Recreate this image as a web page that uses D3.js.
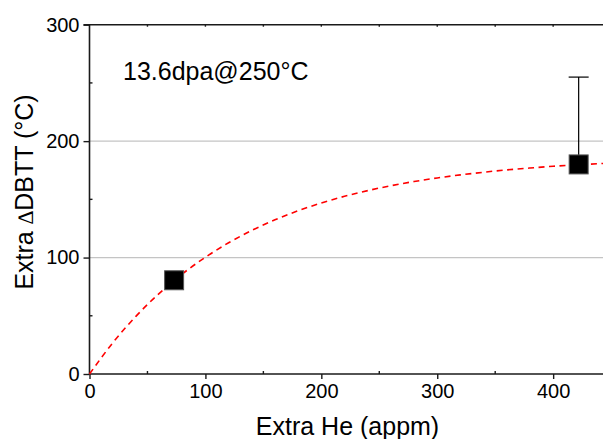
<!DOCTYPE html>
<html><head><meta charset="utf-8">
<script src="https://cdn.jsdelivr.net/npm/d3@7"></script>
<style>body{margin:0;background:#fff}svg{display:block}text{font-family:"Liberation Sans",Arial,sans-serif;fill:#000}</style>
</head><body>
<script>
const pointsHe = [73, 422];
const pointsDBTT = [80.5, 180];
const errUpper = [null, 255];
const curveHe = [0,20,40,60,80,100,120,140,160,180,200,220,240,260,280,300,320,340,360,380,400,420,443];
const curveDBTT = [0,26.7,49.5,69.1,85.9,100.3,112.7,123.3,132.4,140.2,146.9,152.6,157.5,161.7,165.3,168.4,171.0,173.3,175.3,176.9,178.4,179.6,180.8];
const xTicks = [0,100,200,300,400];
const yTicks = [0,100,200,300];
const gridY = [100,200];
const annotation = "13.6dpa@250°C";

const W=603,H=439;
const svg=d3.select("body").append("svg").attr("width",W).attr("height",H);
const x=d3.scaleLinear().domain([0,443]).range([89.5,603]);
const y=d3.scaleLinear().domain([0,300]).range([374,24.7]);

// gridlines
svg.selectAll(".grid").data(gridY).enter().append("line")
  .attr("x1",x(0)).attr("x2",W).attr("y1",d=>y(d)).attr("y2",d=>y(d))
  .attr("stroke","#c4c4c4").attr("stroke-width",1.2);

// axes
const xAxis=svg.append("g").attr("transform",`translate(0,${y(0)})`)
  .call(d3.axisBottom(x).tickValues(xTicks).tickSize(5).tickPadding(4).tickFormat(d3.format("d")));
const yAxis=svg.append("g").attr("transform",`translate(${x(0)},0)`)
  .call(d3.axisLeft(y).tickValues(yTicks).tickSize(6).tickPadding(4).tickFormat(d3.format("d")));
[xAxis,yAxis].forEach(g=>{
  g.select(".domain").attr("stroke","#1a1a1a").attr("stroke-width",1.6);
  g.selectAll(".tick line").attr("stroke","#1a1a1a").attr("stroke-width",1.4);
  g.selectAll(".tick text").attr("font-size",20).attr("font-family","Liberation Sans, Arial, sans-serif").attr("fill","#000");
});
yAxis.select(".domain").attr("d",`M-6,${y(300)}H0V${y(0)}`);
xAxis.select(".domain").attr("d",`M${x(0)},0H${W}`);
xAxis.selectAll(".tick text").attr("dy","0.75em");
// minor ticks (inward)
const minorX=[50,150,250,350];
svg.selectAll(".mx").data(minorX).enter().append("line")
  .attr("x1",d=>x(d)).attr("x2",d=>x(d)).attr("y1",y(0)).attr("y2",y(0)-3)
  .attr("stroke","#1a1a1a").attr("stroke-width",1.4);
const minorY=[50,150,250];
svg.selectAll(".my").data(minorY).enter().append("line")
  .attr("x1",x(0)).attr("x2",x(0)+3).attr("y1",d=>y(d)).attr("y2",d=>y(d))
  .attr("stroke","#1a1a1a").attr("stroke-width",1.4);
// top axis
svg.append("line").attr("x1",x(0)).attr("x2",W).attr("y1",y(300)).attr("y2",y(300))
  .attr("stroke","#1a1a1a").attr("stroke-width",1.6);
svg.selectAll(".tt").data([50,100,150,200,250,300,350,400]).enter().append("line")
  .attr("x1",d=>x(d)).attr("x2",d=>x(d)).attr("y1",y(300)).attr("y2",y(300)+2)
  .attr("stroke","#1a1a1a").attr("stroke-width",1.4);

// fit curve
const curveData=curveHe.map((h,i)=>[h,curveDBTT[i]]);
svg.append("path").datum(curveData)
  .attr("d",d3.line().x(d=>x(d[0])).y(d=>y(d[1])).curve(d3.curveMonotoneX))
  .attr("fill","none").attr("stroke","#ff0000").attr("stroke-width",1.6)
  .attr("stroke-dasharray","6,4.5");

// error bars
const pts=pointsHe.map((h,i)=>({h,v:pointsDBTT[i],e:errUpper[i]}));
pts.filter(d=>d.e!=null).forEach(d=>{
  svg.append("line").attr("x1",x(d.h)).attr("x2",x(d.h)).attr("y1",y(d.v)).attr("y2",y(d.e))
    .attr("stroke","#000").attr("stroke-width",1.2);
  svg.append("line").attr("x1",x(d.h)-10).attr("x2",x(d.h)+10).attr("y1",y(d.e)).attr("y2",y(d.e))
    .attr("stroke","#000").attr("stroke-width",1.2);
});
// markers
svg.selectAll(".pt").data(pts).enter().append("rect")
  .attr("x",d=>x(d.h)-9.5).attr("y",d=>y(d.v)-9.5).attr("width",19).attr("height",19)
  .attr("fill","#000").attr("stroke","#555").attr("stroke-width",1);

// annotation
svg.append("text").attr("x",123).attr("y",79.5).attr("font-size",25).text(annotation);
// axis titles
svg.append("text").attr("x",347.5).attr("y",435).attr("text-anchor","middle").attr("font-size",25).text("Extra He (appm)");
const yt=svg.append("text").attr("transform","translate(33,192) rotate(-90)").attr("text-anchor","middle").attr("font-size",25);
yt.append("tspan").text("Extra ");
yt.append("tspan").attr("font-family","Noto Sans").attr("font-weight",200).attr("font-size",22).text("\u2206");
yt.append("tspan").text("DBTT (°C)");
</script>
</body></html>
